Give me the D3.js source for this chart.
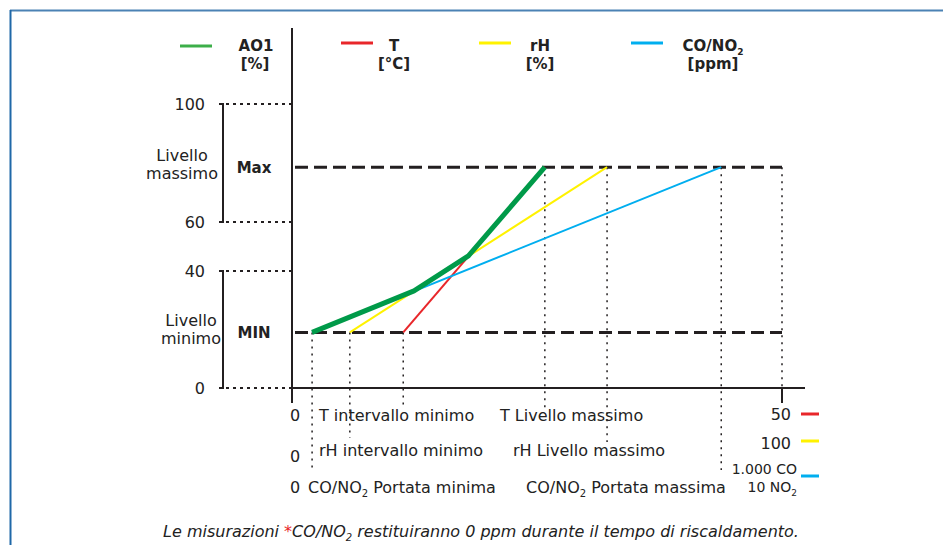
<!DOCTYPE html>
<html>
<head>
<meta charset="utf-8">
<script src="https://cdn.jsdelivr.net/npm/d3@7"></script>
<style>
    body { margin: 0; background: #fff; }
    svg { display: block; font-family: "DejaVu Sans", Verdana, sans-serif; }
</style>
</head>
<body>
<div id="chart"></div>
<script>
// AO1 output [%] on the y axis
const yTicks = [0, 40, 60, 100];
const levelNames = ["MIN", "Max"];
const levelValues = [19, 78.6];
const levelLabels = [["Livello", "minimo"], ["Livello", "massimo"]];

// x axis as % of full scale for each input
const inputNames = ["T", "rH", "CO/NO2"];
const inputUnits = ["[°C]", "[%]", "[ppm]"];
const rangeMin = [22.7, 11.8, 4.1];
const rangeMax = [51.6, 64.3, 87.6];
const fullScale = ["50", "100", "1.000 CO"];

// AO1 = upper envelope of the three inputs
const ao1X = [4.1, 24.9, 36.0, 51.6];
const ao1Y = [19, 33.2, 46.2, 78.6];

const lineColors = ["#e8262a", "#fff200", "#00aeef"];
const ao1Color = "#009a49";

const width = 943, height = 545;
const margin = {left: 292, right: 161};

const x = d3.scaleLinear().domain([0, 100]).range([margin.left, width - margin.right]);
// the drawing squeezes the 40..60 band a little
const y = d3.scaleLinear().domain([0, 40, 60, 100]).range([388, 271, 222, 104]);

const svg = d3.select("#chart").append("svg")
    .attr("width", width)
    .attr("height", height);

// frame
svg.append("line").attr("x1", 10).attr("y1", 10.5).attr("x2", 943).attr("y2", 10.5)
    .attr("stroke", "#4b82b4").attr("stroke-width", 2);
svg.append("line").attr("x1", 10.5).attr("y1", 10).attr("x2", 10.5).attr("y2", 545)
    .attr("stroke", "#1f68a8").attr("stroke-width", 2);

const ink = "#231f20";

// left dotted ticks + brackets
svg.append("g").selectAll("line")
    .data(yTicks)
    .enter().append("line")
    .attr("x1", 219).attr("x2", x(0))
    .attr("y1", d => y(d)).attr("y2", d => y(d))
    .attr("stroke", ink).attr("stroke-width", 2)
    .attr("stroke-dasharray", "3,4");

svg.append("g").selectAll("text")
    .data(yTicks)
    .enter().append("text")
    .attr("x", 205).attr("y", d => y(d)).attr("dy", "0.36em")
    .attr("text-anchor", "end")
    .style("font-size", "16px").style("fill", "#222")
    .text(d => d);

[[0, 40], [60, 100]].forEach(b => {
    svg.append("path")
        .attr("d", `M219,${y(b[1])}H223V${y(b[0])}H219`)
        .attr("fill", "none").attr("stroke", ink).attr("stroke-width", 2);
});

// level labels
const levelTextX = [191, 182];
levelLabels.forEach((lines, i) => {
    const cy = y(levelValues[i]);
    svg.append("text")
        .attr("x", levelTextX[i]).attr("y", cy - 6).attr("text-anchor", "middle")
        .style("font-size", "16px").style("fill", "#222")
        .text(lines[0]);
    svg.append("text")
        .attr("x", levelTextX[i]).attr("y", cy + 12).attr("text-anchor", "middle")
        .style("font-size", "16px").style("fill", "#222")
        .text(lines[1]);
    svg.append("text")
        .attr("x", 254).attr("y", cy).attr("dy", "0.36em").attr("text-anchor", "middle")
        .style("font-size", "15px").style("font-weight", "bold").style("fill", "#222")
        .text(levelNames[i]);
});

// level dashed lines
svg.append("g").selectAll("line")
    .data(levelValues)
    .enter().append("line")
    .attr("x1", x(0) + 3).attr("x2", x(100))
    .attr("y1", d => y(d)).attr("y2", d => y(d))
    .attr("stroke", ink).attr("stroke-width", 3)
    .attr("stroke-dasharray", "13,6");

// vertical dotted guides
const guideEnds = [[408, 438, 472], [410, 442, 470]];
const guides = [];
inputNames.forEach((n, i) => {
    guides.push({v: rangeMin[i], top: y(levelValues[0]), bottom: guideEnds[0][i]});
    guides.push({v: rangeMax[i], top: y(levelValues[1]), bottom: guideEnds[1][i]});
});
guides.push({v: 100, top: y(levelValues[1]), bottom: y(0)});

svg.append("g").selectAll("line")
    .data(guides)
    .enter().append("line")
    .attr("x1", d => x(d.v)).attr("x2", d => x(d.v))
    .attr("y1", d => d.top).attr("y2", d => d.bottom)
    .attr("stroke", ink).attr("stroke-width", 1.5)
    .attr("stroke-dasharray", "2,5");

// axes
svg.append("line").attr("x1", x(0)).attr("x2", x(0)).attr("y1", 28).attr("y2", y(0) + 1)
    .attr("stroke", ink).attr("stroke-width", 2);
svg.append("line").attr("x1", x(0)).attr("x2", 805).attr("y1", y(0)).attr("y2", y(0))
    .attr("stroke", ink).attr("stroke-width", 2);
svg.append("g").selectAll("line")
    .data([0, 100])
    .enter().append("line")
    .attr("x1", d => x(d)).attr("x2", d => x(d))
    .attr("y1", y(0) + 1).attr("y2", y(0) + 15)
    .attr("stroke", ink).attr("stroke-width", 2);

// input lines
const line = d3.line().x(d => x(d[0])).y(d => y(d[1]));
inputNames.forEach((n, i) => {
    svg.append("path")
        .datum([[rangeMin[i], levelValues[0]], [rangeMax[i], levelValues[1]]])
        .attr("d", line)
        .attr("fill", "none")
        .attr("stroke", lineColors[i])
        .attr("stroke-width", 2);
});

svg.append("path")
    .datum(ao1X.map((v, i) => [v, ao1Y[i]]))
    .attr("d", line)
    .attr("fill", "none")
    .attr("stroke", ao1Color)
    .attr("stroke-width", 5)
    .attr("stroke-linejoin", "round");

// legend
const legendLineX = [180, 341, 479, 631];
const legendTextX = [256, 394, 540, 713];
const legendNames = ["AO1"].concat(inputNames);
const legendUnits = ["[%]"].concat(inputUnits);
const legendColors = ["#3cae49"].concat(lineColors);

function subText(sel, str, small) {
    const parts = str.split("NO2");
    parts.forEach((p, k) => {
        const t = sel.append("tspan").text(p + (k < parts.length - 1 ? "NO" : ""));
        if (k > 0) t.attr("dy", -4);
        if (k < parts.length - 1) {
            sel.append("tspan").attr("dy", 4).style("font-size", small).text("2");
        }
    });
}

legendNames.forEach((n, i) => {
    svg.append("line")
        .attr("x1", legendLineX[i]).attr("x2", legendLineX[i] + 32)
        .attr("y1", i === 0 ? 46 : 43).attr("y2", i === 0 ? 46 : 43)
        .attr("stroke", legendColors[i]).attr("stroke-width", 3);
    subText(svg.append("text")
        .attr("x", legendTextX[i]).attr("y", 51)
        .attr("text-anchor", "middle")
        .style("font-size", "15px").style("font-weight", "bold").style("fill", "#222"), n, "9px");
    svg.append("text")
        .attr("x", legendTextX[i] - (i === 0 ? 1 : 0)).attr("y", 69)
        .attr("text-anchor", "middle")
        .style("font-size", "15px").style("font-weight", "bold").style("fill", "#222")
        .text(legendUnits[i]);
});

// bottom range labels
const rowY = [415, 450, 487];
const zeroY = [415, 456, 487];
const minText = ["T intervallo minimo", "rH intervallo minimo", "CO/NO2 Portata minima"];
const maxText = ["T Livello massimo", "rH Livello massimo", "CO/NO2 Portata massima"];
const minTextX = [319, 319, 308];
const maxTextX = [500, 513, 526];

inputNames.forEach((n, i) => {
    svg.append("text").attr("x", 290).attr("y", zeroY[i]).attr("dy", "0.36em")
        .style("font-size", "16px").style("fill", "#222").text("0");
    subText(svg.append("text").attr("x", minTextX[i]).attr("y", rowY[i]).attr("dy", "0.36em")
        .style("font-size", "16px").style("fill", "#222"), minText[i], "10px");
    subText(svg.append("text").attr("x", maxTextX[i]).attr("y", rowY[i]).attr("dy", "0.36em")
        .style("font-size", "16px").style("fill", "#222"), maxText[i], "10px");
});

// full scale labels
const fsY = [414, 443, 469];
const fsLineY = [414, 441, 476];
fullScale.forEach((s, i) => {
    svg.append("text").attr("x", i === 2 ? 797 : 791).attr("y", fsY[i]).attr("dy", "0.36em")
        .attr("text-anchor", "end")
        .style("font-size", i === 2 ? "14px" : "16px").style("fill", "#222").text(s);
    svg.append("line").attr("x1", 801).attr("x2", 819)
        .attr("y1", fsLineY[i]).attr("y2", fsLineY[i])
        .attr("stroke", lineColors[i]).attr("stroke-width", 3);
});
subText(svg.append("text").attr("x", 797).attr("y", 487).attr("dy", "0.36em")
    .attr("text-anchor", "end")
    .style("font-size", "14px").style("fill", "#222"), "10 NO2", "9px");

// footnote
const note = svg.append("text")
    .attr("x", 481).attr("y", 537)
    .attr("text-anchor", "middle")
    .style("font-size", "16px").style("font-style", "italic").style("fill", "#222");
note.append("tspan").text("Le misurazioni ");
note.append("tspan").style("fill", "#e8262a").text("*");
note.append("tspan").text("CO/NO");
note.append("tspan").attr("dy", 4).style("font-size", "10px").text("2");
note.append("tspan").attr("dy", -4).text(" restituiranno 0 ppm durante il tempo di riscaldamento.");
</script>
</body>
</html>
